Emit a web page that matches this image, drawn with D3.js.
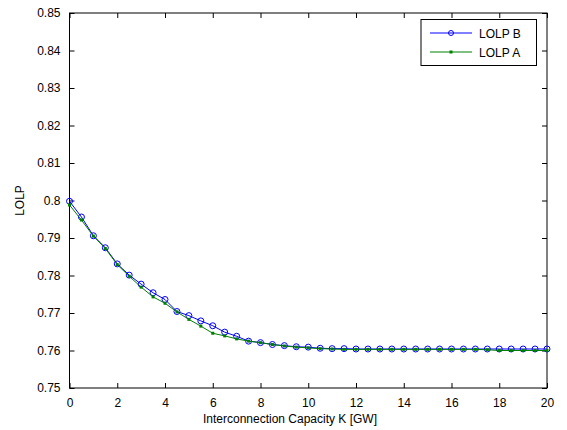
<!DOCTYPE html>
<html lang="en">
<head>
    <meta charset="UTF-8">
    <title>LOLP vs Interconnection Capacity</title>
    <script type="text/javascript" src="https://cdn.jsdelivr.net/npm/d3@7"></script>
    <style>
        body { margin: 0; background: #fff; }
        .tick-text { font-family: "Liberation Sans", Arial, sans-serif; font-size: 12px; fill: #000; }
        .axis-label { font-family: "Liberation Sans", Arial, sans-serif; font-size: 12px; fill: #000; }
    </style>
</head>
<body>
    <div id="container"></div>
    <script type="text/javascript">
        // interconnection capacity K [GW], every 0.5
        const capacity = [0, 0.5, 1, 1.5, 2, 2.5, 3, 3.5, 4, 4.5, 5, 5.5, 6, 6.5, 7, 7.5, 8, 8.5, 9, 9.5, 10,
            10.5, 11, 11.5, 12, 12.5, 13, 13.5, 14, 14.5, 15, 15.5, 16, 16.5, 17, 17.5, 18, 18.5, 19, 19.5, 20];
        const lolpB = [0.7998, 0.7956, 0.7906, 0.7874, 0.7831, 0.7801, 0.7777, 0.7754, 0.7736, 0.7704, 0.7693,
            0.7679, 0.7666, 0.7649, 0.7638, 0.7625, 0.7621, 0.7616, 0.7613, 0.7610, 0.7609,
            0.7606, 0.7605, 0.7605, 0.7604, 0.7604, 0.7604, 0.7604, 0.7604, 0.7604, 0.7604,
            0.7604, 0.7604, 0.7604, 0.7604, 0.7604, 0.7604, 0.7604, 0.7604, 0.7604, 0.7604];
        const lolpA = [0.7988, 0.7948, 0.7905, 0.7872, 0.7829, 0.7798, 0.7769, 0.7743, 0.7726, 0.7703, 0.7683,
            0.7665, 0.7646, 0.7639, 0.7631, 0.7625, 0.7621, 0.7616, 0.7612, 0.7609, 0.7607,
            0.7605, 0.7604, 0.7603, 0.7603, 0.7603, 0.7603, 0.7603, 0.7603, 0.7603, 0.7603,
            0.7603, 0.7603, 0.7603, 0.7603, 0.7602, 0.7600, 0.7600, 0.7600, 0.7600, 0.7600];
        const xTicks = [0, 2, 4, 6, 8, 10, 12, 14, 16, 18, 20];
        const yTicks = [0.75, 0.76, 0.77, 0.78, 0.79, 0.8, 0.81, 0.82, 0.83, 0.84, 0.85];

        const w = 567;
        const h = 430;
        const margin = {left: 69.5, right: 20, top: 13, bottom: 42};

        const svg = d3.select("#container")
            .append("svg")
            .attr("width", w)
            .attr("height", h);

        const xScale = d3.scaleLinear()
            .domain([0, 20])
            .range([margin.left, w - margin.right]);
        const yScale = d3.scaleLinear()
            .domain([0.75, 0.85])
            .range([h - margin.bottom, margin.top]);

        const tickLen = 5;
        // axes, MATLAB style: ticks inside, box all round
        svg.append("g")
            .attr("transform", `translate(0,${yScale(0.75)})`)
            .call(d3.axisBottom(xScale).tickValues(xTicks).tickSize(-tickLen).tickPadding(10).tickFormat(d3.format("d")))
            .call(g => g.select(".domain").remove())
            .selectAll("text").classed("tick-text", true).attr("font-size", null).attr("font-family", null);
        svg.append("g")
            .attr("transform", `translate(0,${yScale(0.85)})`)
            .call(d3.axisTop(xScale).tickValues(xTicks).tickSize(-tickLen).tickFormat(""))
            .call(g => g.select(".domain").remove());
        svg.append("g")
            .attr("transform", `translate(${xScale(0)},0)`)
            .call(d3.axisLeft(yScale).tickValues(yTicks).tickSize(-tickLen).tickPadding(9).tickFormat(d => d3.format("")(+d.toFixed(2))))
            .call(g => g.select(".domain").remove())
            .selectAll("text").classed("tick-text", true).attr("font-size", null).attr("font-family", null);
        svg.append("g")
            .attr("transform", `translate(${xScale(20)},0)`)
            .call(d3.axisRight(yScale).tickValues(yTicks).tickSize(-tickLen).tickFormat(""))
            .call(g => g.select(".domain").remove());

        svg.append("rect")
            .attr("x", xScale(0))
            .attr("y", yScale(0.85))
            .attr("width", xScale(20) - xScale(0))
            .attr("height", yScale(0.75) - yScale(0.85))
            .attr("fill", "none")
            .attr("stroke", "#000")
            .attr("stroke-width", 1);

        const seriesB = capacity.map((k, i) => ({k: k, v: lolpB[i]}));
        const seriesA = capacity.map((k, i) => ({k: k, v: lolpA[i]}));
        const line = d3.line().x(d => xScale(d.k)).y(d => yScale(d.v));

        svg.append("path")
            .datum(seriesB)
            .attr("d", line)
            .attr("fill", "none")
            .attr("stroke", "#0000ff")
            .attr("stroke-width", 1);
        svg.append("g").selectAll("circle")
            .data(seriesB)
            .enter()
            .append("circle")
            .attr("cx", d => xScale(d.k))
            .attr("cy", d => yScale(d.v))
            .attr("r", 3)
            .attr("fill", "none")
            .attr("stroke", "#0000ff")
            .attr("stroke-width", 1);

        svg.append("path")
            .datum(seriesA)
            .attr("d", line)
            .attr("fill", "none")
            .attr("stroke", "#008000")
            .attr("stroke-width", 1);
        svg.append("g").selectAll("rect")
            .data(seriesA)
            .enter()
            .append("rect")
            .attr("x", d => xScale(d.k) - 1.5)
            .attr("y", d => yScale(d.v) - 1.5)
            .attr("width", 3)
            .attr("height", 3)
            .attr("fill", "#008000");

        // axis labels
        svg.append("text")
            .attr("class", "axis-label")
            .attr("x", 290)
            .attr("y", 423)
            .attr("text-anchor", "middle")
            .text("Interconnection Capacity K [GW]");
        svg.append("text")
            .attr("class", "axis-label")
            .attr("transform", `translate(24,${yScale(0.8)}) rotate(-90)`)
            .attr("text-anchor", "middle")
            .text("LOLP");

        // legend
        const legend = svg.append("g");
        legend.append("rect")
            .attr("x", 421)
            .attr("y", 19.5)
            .attr("width", 115.5)
            .attr("height", 46)
            .attr("fill", "#fff")
            .attr("stroke", "#000");
        const legendItems = [
            {name: "LOLP B", color: "#0000ff", marker: "circle"},
            {name: "LOLP A", color: "#008000", marker: "square"}
        ];
        legendItems.forEach((item, i) => {
            const y = 33 + i * 19;
            legend.append("line")
                .attr("x1", 430).attr("x2", 472)
                .attr("y1", y).attr("y2", y)
                .attr("stroke", item.color);
            if (item.marker === "circle") {
                legend.append("circle")
                    .attr("cx", 451).attr("cy", y).attr("r", 2.5)
                    .attr("fill", "none").attr("stroke", item.color);
            } else {
                legend.append("rect")
                    .attr("x", 449.5).attr("y", y - 1.5)
                    .attr("width", 3).attr("height", 3)
                    .attr("fill", item.color);
            }
            legend.append("text")
                .attr("class", "axis-label")
                .attr("x", 479)
                .attr("y", y + 4.5)
                .text(item.name);
        });
    </script>
</body>
</html>
